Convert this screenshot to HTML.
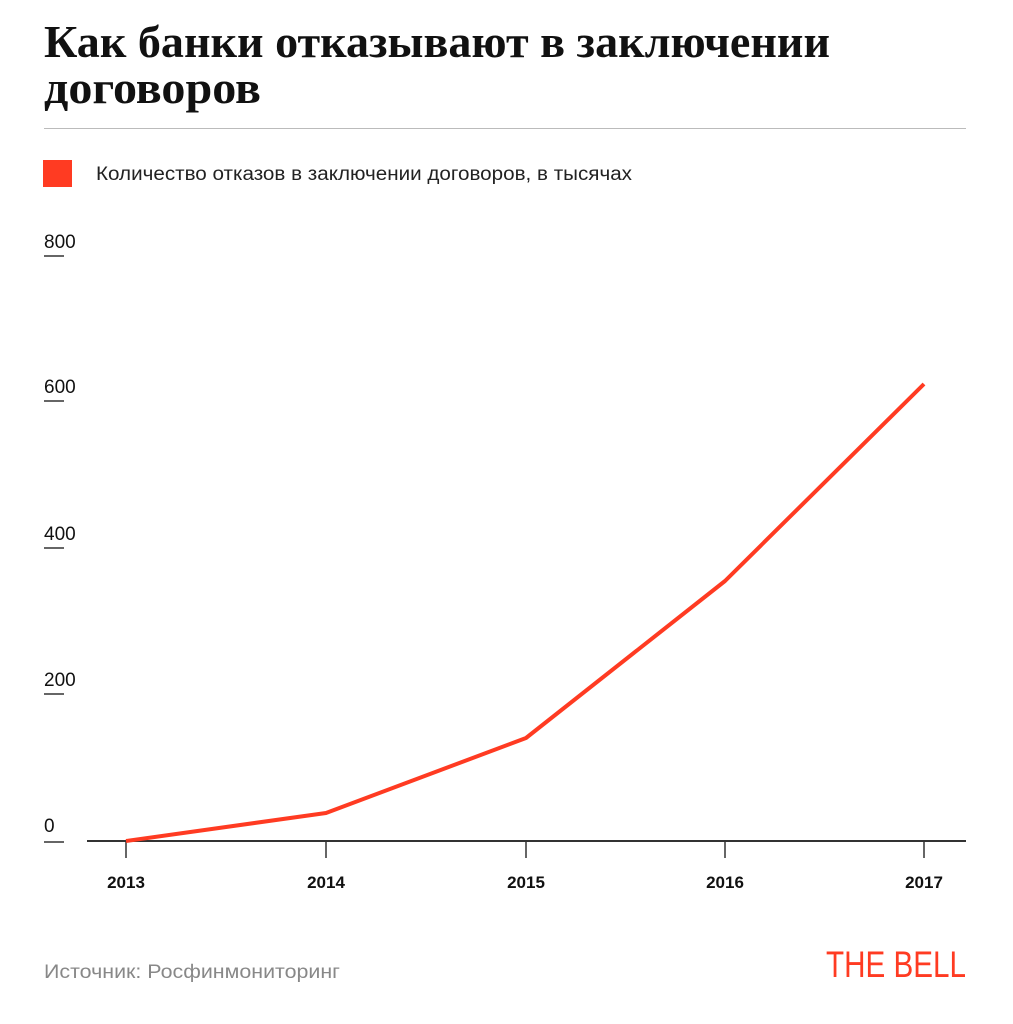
<!DOCTYPE html>
<html><head><meta charset="utf-8"><style>
body{margin:0;width:1013px;height:1024px;background:#fff;overflow:hidden;position:relative;font-family:"Liberation Sans",sans-serif}
</style></head><body>
<div style="position:absolute;left:44px;top:128px;width:922px;height:1px;background:#bbb"></div>
<div style="position:absolute;left:43px;top:160px;width:29px;height:27px;background:#ff3b22"></div>
<svg width="1013" height="1024" style="position:absolute;left:0;top:0">
<g font-family="Liberation Serif, serif" font-weight="bold" font-size="46" fill="#111">
<text x="44" y="57" textLength="786" lengthAdjust="spacingAndGlyphs">Как банки отказывают в заключении</text>
<text x="44" y="103" textLength="217" lengthAdjust="spacingAndGlyphs">договоров</text>
</g>
<text x="96" y="180" font-family="Liberation Sans, sans-serif" font-size="19" fill="#222" textLength="536" lengthAdjust="spacingAndGlyphs">Количество отказов в заключении договоров, в тысячах</text>
<g font-family="Liberation Sans, sans-serif" font-size="19" fill="#111">
<text x="44" y="248">800</text><text x="44" y="393">600</text><text x="44" y="540">400</text><text x="44" y="686">200</text><text x="44" y="832">0</text>
</g>
<g stroke="#333" stroke-width="1.5">
<line x1="44" y1="256" x2="64" y2="256"/><line x1="44" y1="401" x2="64" y2="401"/><line x1="44" y1="548" x2="64" y2="548"/><line x1="44" y1="694" x2="64" y2="694"/><line x1="44" y1="842" x2="64" y2="842"/>
<line x1="87" y1="841" x2="966" y2="841" stroke-width="2"/>
<line x1="126" y1="841" x2="126" y2="858"/><line x1="326" y1="841" x2="326" y2="858"/><line x1="526" y1="841" x2="526" y2="858"/><line x1="725" y1="841" x2="725" y2="858"/><line x1="924" y1="841" x2="924" y2="858"/>
</g>
<g font-family="Liberation Sans, sans-serif" font-size="17" font-weight="bold" fill="#111" text-anchor="middle">
<text x="126" y="888">2013</text><text x="326" y="888">2014</text><text x="526" y="888">2015</text><text x="725" y="888">2016</text><text x="924" y="888">2017</text>
</g>
<polyline points="126,841 326,813 526,738 725,581 924,384" fill="none" stroke="#ff3b22" stroke-width="4" stroke-linejoin="round"/>
<text x="44" y="978" font-family="Liberation Sans, sans-serif" font-size="19" fill="#888" textLength="296" lengthAdjust="spacingAndGlyphs">Источник:  Росфинмониторинг</text>
<text x="826" y="977" font-family="Liberation Sans, sans-serif" font-size="37" fill="#ff3b22" textLength="140" lengthAdjust="spacingAndGlyphs">THE BELL</text>
</svg>
</body></html>
